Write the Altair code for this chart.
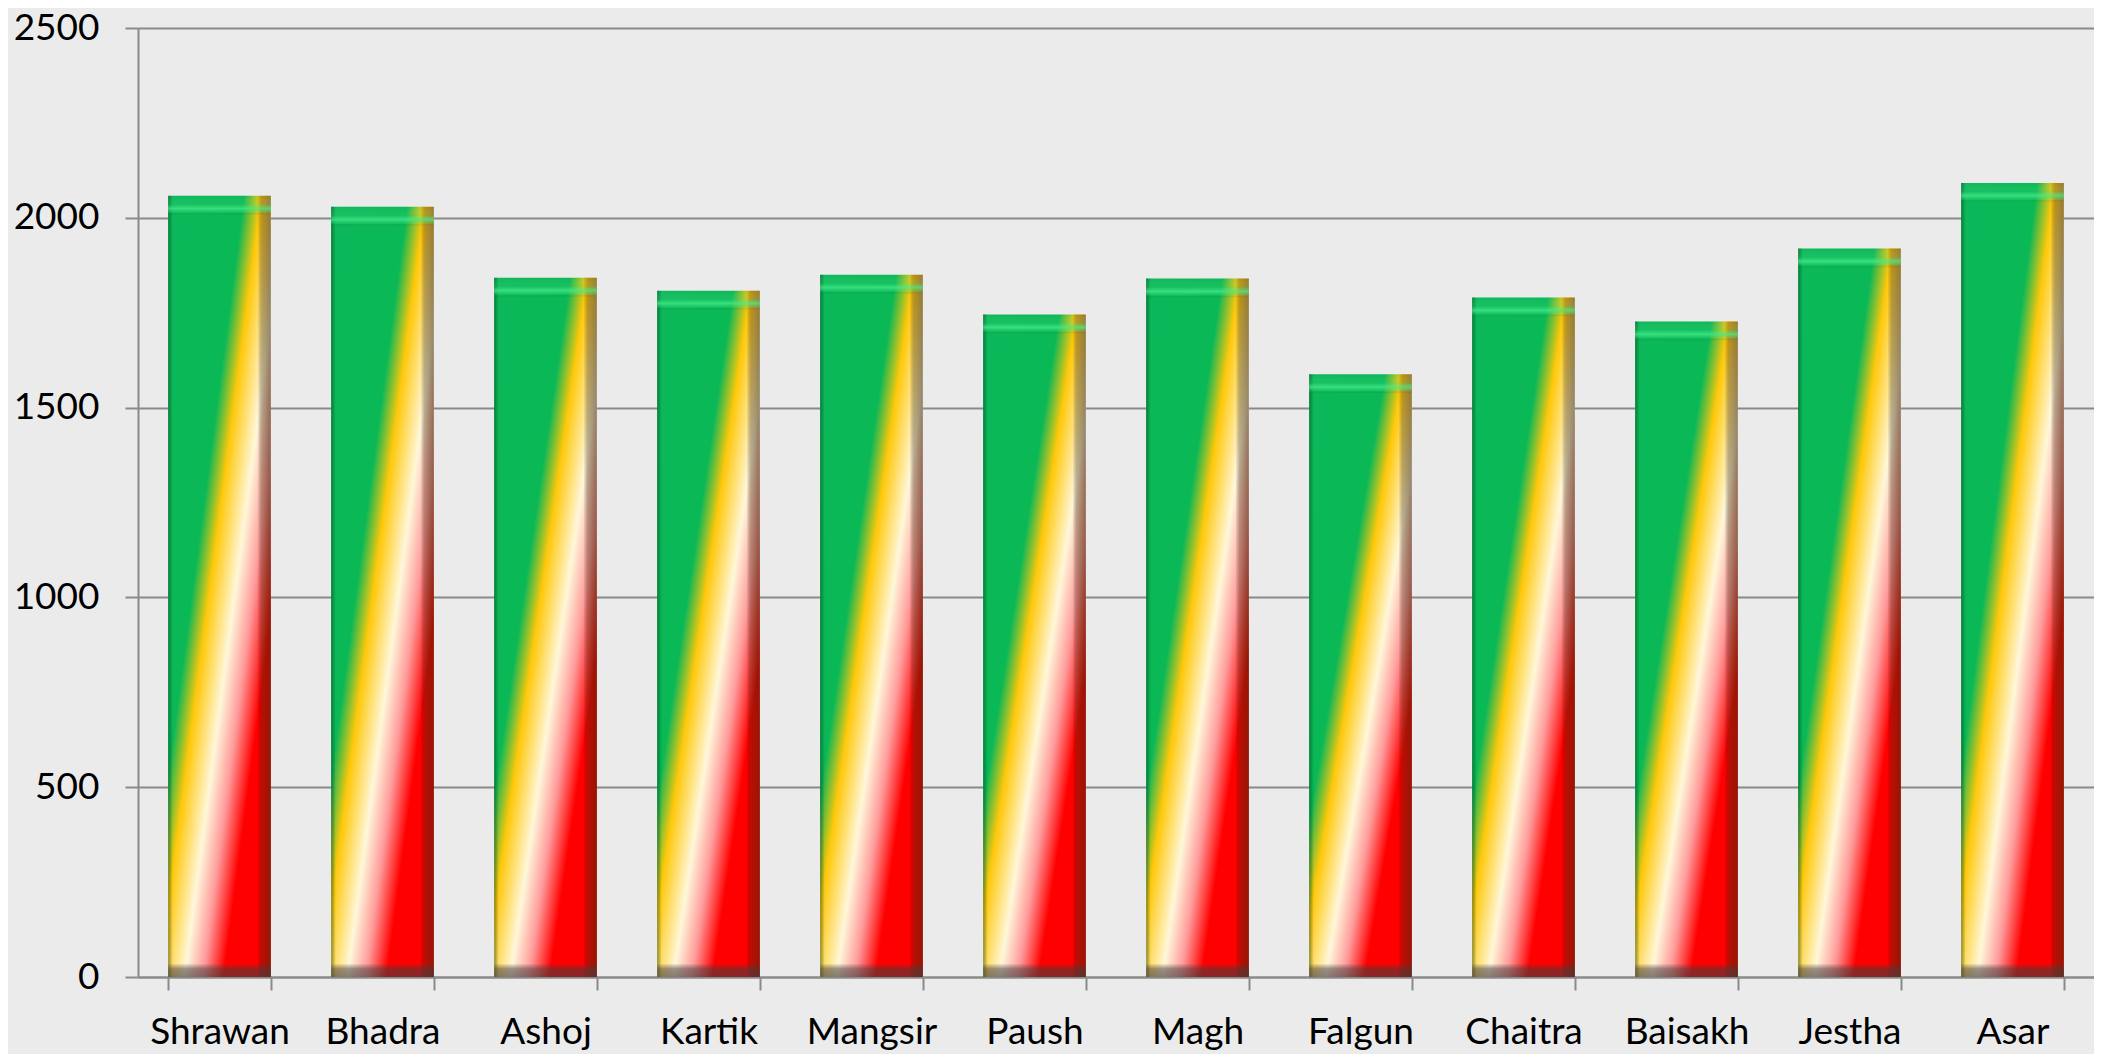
import altair as alt
import pandas as pd

months = ["Shrawan", "Bhadra", "Ashoj", "Kartik", "Mangsir", "Paush",
          "Magh", "Falgun", "Chaitra", "Baisakh", "Jestha", "Asar"]
values = [2058, 2029, 1842, 1808, 1850, 1745, 1840, 1588, 1790, 1727, 1919, 2092]

df = pd.DataFrame({"month": months, "value": values})

FONT = "Lato"
GRID = "#8a8a8a"

xscale = alt.Scale(paddingInner=0.37, paddingOuter=0.185)
yscale = alt.Scale(domain=[0, 2500], nice=False)

def G(stops, x1, y1, x2, y2):
    return alt.Gradient(
        gradient="linear",
        stops=[alt.GradientStop(offset=o, color=c) for o, c in stops],
        x1=x1, y1=y1, x2=x2, y2=y2,
    )

main_grad = G([
    (0.0, "#0cb85a"),
    (0.37, "#0ab856"),
    (0.455, "#ffc80a"),
    (0.58, "#fff7da"),
    (0.67, "#ff9a9a"),
    (0.77, "#ff0000"),
    (1.0, "#ff0000"),
], 0, 0, 1, 1)

edge_grad = G([
    (0.0, "rgba(0,50,20,0.45)"),
    (0.045, "rgba(0,50,20,0.0)"),
    (0.87, "rgba(0,0,0,0)"),
    (0.91, "rgba(60,40,10,0.35)"),
    (1.0, "rgba(60,40,10,0.55)"),
], 0, 0, 1, 0)

top_grad = G([
    (0.0, "rgba(255,255,255,0.0)"),
    (0.45, "rgba(80,240,140,0.15)"),
    (0.68, "rgba(70,235,140,0.75)"),
    (0.88, "rgba(60,230,130,0.2)"),
    (1.0, "rgba(0,0,0,0.04)"),
], 0, 0, 0, 1)

bottom_grad = G([
    (0.0, "rgba(70,60,60,0.0)"),
    (0.4, "rgba(70,60,60,0.55)"),
    (1.0, "rgba(70,60,60,0.65)"),
], 0, 0, 0, 1)

base = alt.Chart(df).encode(
    x=alt.X("month:N", sort=months, scale=xscale, title=None),
)

bars = base.mark_bar(color=main_grad).encode(
    y=alt.Y("value:Q", scale=yscale, title=None),
)

edges = base.mark_bar(color=edge_grad).encode(
    y=alt.Y("value:Q", scale=yscale, title=None),
)

tops = base.transform_calculate(
    bevel="datum.value - 50"
).mark_bar(color=top_grad).encode(
    y=alt.Y("value:Q", scale=yscale, title=None),
    y2="bevel:Q",
)

bottoms = base.transform_calculate(
    zero="0", bev="36"
).mark_bar(color=bottom_grad).encode(
    y=alt.Y("bev:Q", scale=yscale, title=None),
    y2="zero:Q",
)

chart = alt.layer(bars, edges, tops, bottoms).properties(
    width=1956,
    height=949,
    autosize=alt.AutoSizeParams(type="none"),
    padding={"left": 130, "top": 20, "right": 0, "bottom": 80},
    background="#ebebeb",
).configure_view(
    stroke=None,
).configure_axis(
    labelFont=FONT,
    labelColor="#000000",
    domainColor=GRID,
    domainWidth=2,
    tickColor=GRID,
    tickWidth=2,
    tickSize=13,
    gridColor=GRID,
    gridWidth=2,
).configure_axisY(
    tickCount=5,
    format="d",
    labelFontSize=37,
    labelPadding=26,
    grid=True,
).configure_axisX(
    labelFontSize=37,
    labelPadding=24,
    labelAngle=0,
    grid=False,
    tickBand="extent",
)

chart.save("out.html", embed_options={"renderer": "svg", "actions": False})
